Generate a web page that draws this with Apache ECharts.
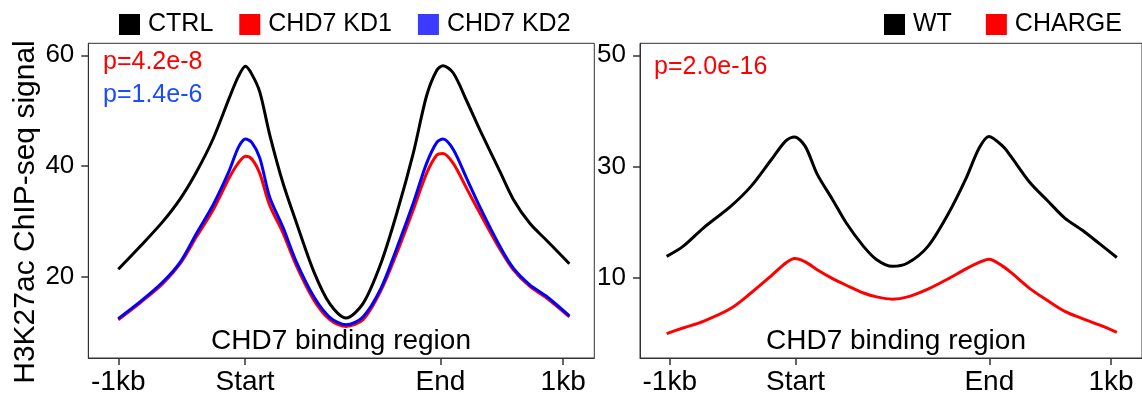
<!DOCTYPE html>
<html><head><meta charset="utf-8">
<script src="https://cdn.jsdelivr.net/npm/echarts@6/dist/echarts.min.js"></script>
<style>html,body{margin:0;padding:0;background:#fff}#c{width:1142px;height:396px}</style>
</head><body><div id="c"></div>
<script>
// x positions: -1kb = 0, 1kb = 100 (profile units)
const tickLabels = ['-1kb', 'Start', 'End', '1kb'];
const tickPos = [0, 28.5, 72.4, 100];

const xLeft = [0, 5, 10, 14, 17.6, 21.3, 25, 27, 28.6, 30, 31.8, 34, 37, 40, 44, 47.6, 51.2, 55, 59, 62.6, 66.3, 69.3, 71.6, 73, 75.3, 78.3, 81.3, 85.8, 88.8, 92.5, 96.3, 101.4];
const ctrl = [21.4, 25.6, 30.0, 34.2, 39.0, 44.9, 52.4, 56.2, 58.0, 56.6, 53.4, 45.8, 37.0, 29.9, 20.9, 15.1, 12.6, 15.2, 22.4, 31.5, 42.3, 52.7, 57.3, 58.1, 56.8, 51.8, 46.5, 39.0, 34.0, 29.7, 26.6, 22.4];
const kd1 = [12.3, 15.4, 18.8, 22.5, 27.3, 32.1, 38.0, 40.6, 41.8, 41.3, 38.7, 33.0, 28.0, 22.1, 15.8, 12.3, 11.1, 12.3, 17.5, 24.3, 32.1, 38.7, 42.0, 42.3, 40.5, 36.0, 31.5, 25.0, 21.3, 18.3, 16.2, 12.8];
const kd2 = [12.5, 15.6, 19.1, 22.8, 27.9, 33.0, 39.3, 43.4, 44.9, 44.3, 41.5, 34.5, 29.0, 22.8, 16.4, 12.7, 11.4, 12.8, 17.9, 25.2, 33.3, 40.5, 44.3, 44.9, 43.0, 37.8, 32.6, 25.5, 21.6, 18.6, 16.5, 13.0];

const xRight = [-0.7, 3, 7.6, 13.8, 18.4, 23, 26.3, 28.3, 30.7, 33.4, 36.9, 40, 43.9, 46.9, 50.4, 53.9, 58.5, 63.2, 67, 70.1, 72.3, 75.5, 77.3, 81.6, 85.5, 89.5, 93.5, 97.5, 101.3];
const wt = [13.8, 15.6, 18.9, 22.8, 26.4, 31.2, 34.6, 35.3, 33.6, 28.6, 24.0, 19.8, 15.6, 13.2, 12.0, 12.6, 15.6, 21.6, 27.6, 33.3, 35.4, 33.6, 31.8, 27.1, 23.9, 20.7, 18.5, 16.0, 13.6];
const charge = [-0.1, 0.9, 2.1, 4.4, 7.2, 10.3, 12.6, 13.4, 12.8, 11.4, 9.8, 8.6, 7.2, 6.5, 6.1, 6.5, 7.9, 9.8, 11.5, 12.7, 13.3, 12.0, 10.9, 8.0, 5.9, 3.9, 2.6, 1.4, 0.1];

const leftYTicks = [20, 40, 60];
const rightYTicks = [10, 30, 50];
const leftNames = ['CTRL', 'CHD7 KD1', 'CHD7 KD2'];
const rightNames = ['WT', 'CHARGE'];
const pLeft = ['p=4.2e-8', 'p=1.4e-6'];
const pRight = ['p=2.0e-16'];
const regionLabel = 'CHD7 binding region';
const yTitle = 'H3K27ac ChIP-seq signal';

const FONT = '"Liberation Sans", Arial, Helvetica, sans-serif';
const AX = '#333333';
const pair = (xs, ys) => xs.map((x, i) => [x, ys[i]]);

function xAxisCfg(gi) {
  return {
    type: 'value', gridIndex: gi, min: -6.74, max: 107,
    axisLine: { show: true, onZero: false, lineStyle: { color: AX, width: 1 } },
    axisTick: { show: true, length: 7, customValues: tickPos, lineStyle: { color: AX, width: 1.5 } },
    axisLabel: {
      customValues: tickPos, margin: 10, color: '#000', fontSize: 28, fontFamily: FONT,
      formatter: v => { let k = 0, b = 1e9; tickPos.forEach((t, i) => { if (Math.abs(t - v) < b) { b = Math.abs(t - v); k = i; } }); return tickLabels[k]; }
    },
    splitLine: { show: false }
  };
}
function yAxisCfg(gi, min, max, ticks) {
  return {
    type: 'value', gridIndex: gi, min: min, max: max,
    axisLine: { show: true, onZero: false, lineStyle: { color: AX, width: 1 } },
    axisTick: { show: true, length: 7, customValues: ticks, lineStyle: { color: AX, width: 1.5 } },
    axisLabel: { customValues: ticks, margin: 14, color: '#000', fontSize: 26, fontFamily: FONT },
    splitLine: { show: false }
  };
}
function line(name, gi, data, color) {
  return {
    name: name, type: 'line', xAxisIndex: gi, yAxisIndex: gi, data: data,
    showSymbol: false, smooth: 0.3, lineStyle: { color: color, width: 3 }, itemStyle: { color: color },
    emphasis: { disabled: true }, animation: false
  };
}

const chart = echarts.init(document.getElementById('c'), null, { renderer: 'canvas' });
chart.setOption({
  animation: false,
  backgroundColor: '#fff',
  textStyle: { fontFamily: FONT },
  grid: [
    { left: 88.3, top: 43.3, width: 506, height: 315, show: true, borderColor: AX, borderWidth: 1, backgroundColor: '#fff' },
    { left: 640, top: 43.3, width: 507, height: 315, show: true, borderColor: AX, borderWidth: 1, backgroundColor: '#fff' }
  ],
  xAxis: [xAxisCfg(0), xAxisCfg(1)],
  yAxis: [yAxisCfg(0, 5.4, 62.16, leftYTicks), yAxisCfg(1, -4.5, 52.16, rightYTicks)],
  legend: [
    { data: [{ name: leftNames[0], itemStyle: { color: '#000' } }, { name: leftNames[1], itemStyle: { color: '#ff0000' } }, { name: leftNames[2], itemStyle: { color: '#3b3bff' } }],
      left: 119, top: 12, icon: 'rect', itemWidth: 21, itemHeight: 21, itemGap: 26, padding: 0,
      textStyle: { fontSize: 25, color: '#000', fontFamily: FONT, padding: [0, 0, 0, 3] }, selectedMode: false },
    { data: [{ name: rightNames[0], itemStyle: { color: '#000' } }, { name: rightNames[1], itemStyle: { color: '#ff0000' } }],
      left: 884, top: 12, icon: 'rect', itemWidth: 21, itemHeight: 21, itemGap: 34, padding: 0,
      textStyle: { fontSize: 25, color: '#000', fontFamily: FONT, padding: [0, 0, 0, 3] }, selectedMode: false }
  ],
  series: [
    line(leftNames[0], 0, pair(xLeft, ctrl), '#000000'),
    line(leftNames[1], 0, pair(xLeft, kd1), '#ff0000'),
    line(leftNames[2], 0, pair(xLeft, kd2), '#0000ff'),
    line(rightNames[0], 1, pair(xRight, wt), '#000000'),
    line(rightNames[1], 1, pair(xRight, charge), '#ff0000')
  ],
  graphic: [
    { type: 'text', x: 26, y: 212, rotation: Math.PI / 2, style: { text: yTitle, fontSize: 30, fontFamily: FONT, fill: '#000', align: 'center', verticalAlign: 'middle' } },
    { type: 'text', x: 341, y: 341, style: { text: regionLabel, fontSize: 28, fontFamily: FONT, fill: '#000', align: 'center', verticalAlign: 'middle' } },
    { type: 'text', x: 896, y: 341, style: { text: regionLabel, fontSize: 28, fontFamily: FONT, fill: '#000', align: 'center', verticalAlign: 'middle' } },
    { type: 'text', x: 103, y: 62, style: { text: pLeft[0], fontSize: 25, fontFamily: FONT, fill: '#ff0000', align: 'left', verticalAlign: 'middle' } },
    { type: 'text', x: 103, y: 95, style: { text: pLeft[1], fontSize: 25, fontFamily: FONT, fill: '#1a4cff', align: 'left', verticalAlign: 'middle' } },
    { type: 'text', x: 654, y: 67, style: { text: pRight[0], fontSize: 25, fontFamily: FONT, fill: '#ff0000', align: 'left', verticalAlign: 'middle' } }
  ]
});
</script></body></html>
